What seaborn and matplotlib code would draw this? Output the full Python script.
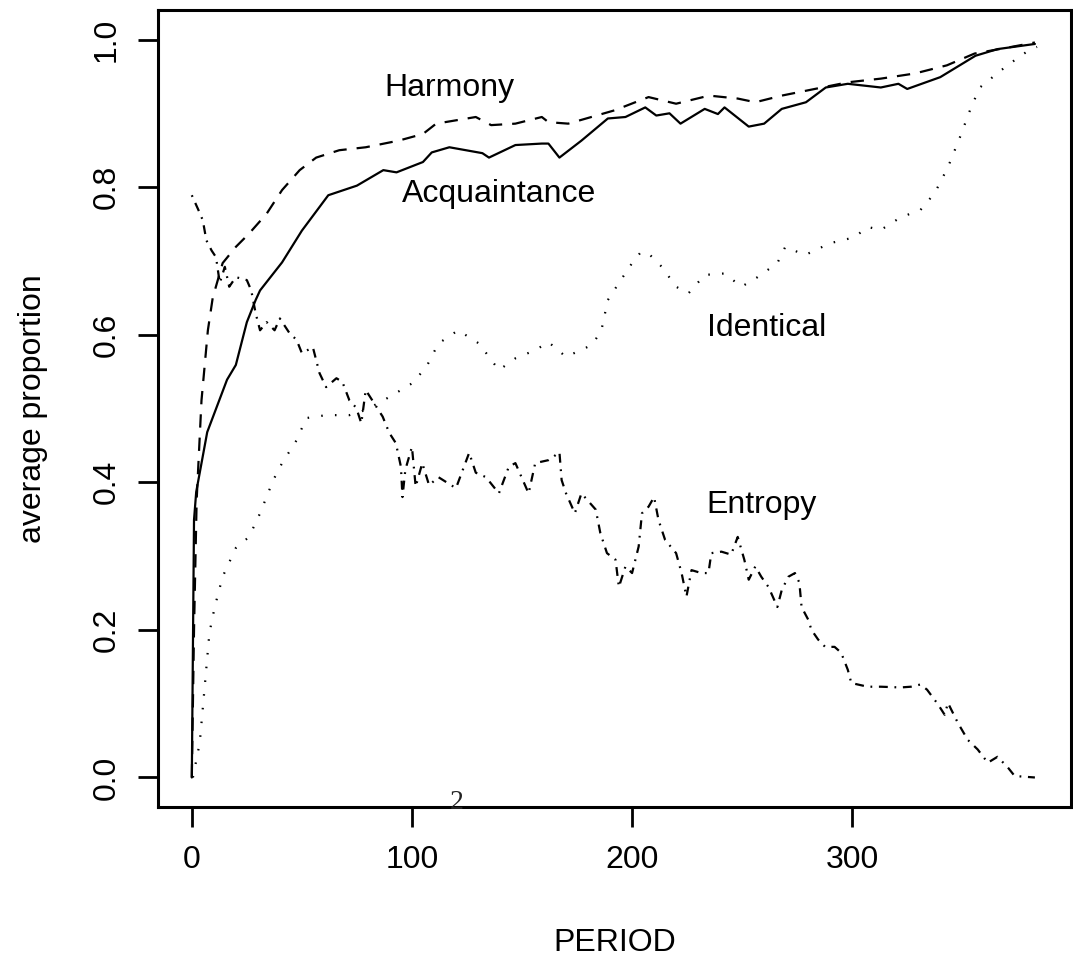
import matplotlib
matplotlib.use("Agg")
import matplotlib.pyplot as plt
import seaborn as sns
import numpy as np

# ---------------- data ----------------
acq_x = [0, 1, 2, 7, 16, 20, 25, 29, 31, 41, 50, 62, 75, 87, 93, 105, 109, 117,
         132, 135, 147, 159, 162, 167, 177, 189, 197, 206, 211, 217, 222, 233,
         239, 242, 253, 260, 268, 279, 288, 298, 313, 321, 325, 340, 356, 366, 383]
acq_y = [0.0, 0.349, 0.387, 0.468, 0.539, 0.559, 0.617, 0.647, 0.66, 0.698, 0.741,
         0.789, 0.802, 0.823, 0.82, 0.834, 0.847, 0.854, 0.846, 0.84, 0.857, 0.859,
         0.859, 0.84, 0.863, 0.893, 0.895, 0.908, 0.897, 0.9, 0.886, 0.906, 0.899,
         0.908, 0.882, 0.886, 0.906, 0.915, 0.935, 0.94, 0.935, 0.94, 0.933, 0.949,
         0.978, 0.987, 0.994]

har_x = [0, 1, 2.2, 4.4, 7.3, 9.5, 14, 20, 26, 34, 41, 49, 56.5, 67, 79, 94, 105,
         111, 129, 136, 147, 159, 162, 171, 192, 207.5, 220, 235, 248, 256, 268,
         283, 298, 313, 328.5, 343, 355.6, 370.6, 383]
har_y = [0.0, 0.2, 0.376, 0.511, 0.606, 0.65, 0.697, 0.719, 0.737, 0.764, 0.796,
         0.823, 0.84, 0.85, 0.854, 0.863, 0.872, 0.886, 0.895, 0.884, 0.886, 0.895,
         0.888, 0.886, 0.904, 0.922, 0.913, 0.924, 0.92, 0.915, 0.924, 0.933, 0.942,
         0.947, 0.954, 0.965, 0.981, 0.989, 0.996]

ide_x = [0.5, 3.6, 6, 8, 10.4, 14, 20, 26, 31, 37, 41, 47.6, 52, 61, 71.6, 79, 90,
         100, 106.5, 112, 121, 130.5, 139.5, 147, 156, 162, 170, 181.7, 186, 189,
         194, 200, 204, 207.5, 213.5, 220, 225.6, 233, 242, 249.7, 257, 266, 269.6,
         278.6, 290, 301, 307, 313, 322, 331, 337.5, 343.5, 349, 354, 358, 367.5,
         373.8, 381, 384]
ide_y = [0.0, 0.047, 0.128, 0.196, 0.231, 0.272, 0.311, 0.326, 0.358, 0.403, 0.426,
         0.457, 0.487, 0.491, 0.491, 0.498, 0.516, 0.534, 0.556, 0.588, 0.606, 0.588,
         0.552, 0.568, 0.579, 0.59, 0.57, 0.586, 0.605, 0.647, 0.67, 0.697, 0.712,
         0.71, 0.692, 0.665, 0.656, 0.681, 0.683, 0.665, 0.678, 0.697, 0.719, 0.708,
         0.724, 0.732, 0.746, 0.742, 0.759, 0.769, 0.792, 0.827, 0.868, 0.908, 0.935,
         0.958, 0.972, 0.987, 0.99]

ent_x = [0, 3, 5, 6.6, 9, 11, 12.7, 15, 17, 20, 25, 27, 29, 31, 34, 37.6, 40, 44.4,
         47.6, 50, 55, 58, 61, 65.7, 68.4, 71.6, 74.7, 77, 79, 82, 86.7, 89.7, 92.7,
         95, 95.7, 97, 100, 101.7, 104.7, 107.8, 112, 120, 126, 129, 133.6, 139.5,
         144, 147, 153, 156, 162, 163.6, 167, 168, 170, 174, 177, 183.5, 185.6,
         188.6, 192.5, 194, 197, 200, 203, 204.5, 207.5, 210, 212, 215, 220, 222.5,
         224.7, 227, 231.5, 234.7, 236, 240.6, 245, 248, 251, 253, 256, 258.7, 262,
         266, 268, 271, 274, 276, 277, 280, 281.5, 284.5, 287.7, 292, 295, 298,
         299.6, 307, 313, 322, 326.7, 331, 334, 339, 342, 343.5, 348, 352.5, 357,
         361.6, 366, 370.6, 373.8, 383]
ent_y = [0.789, 0.769, 0.755, 0.728, 0.714, 0.705, 0.67, 0.692, 0.665, 0.678, 0.674,
         0.66, 0.629, 0.606, 0.617, 0.606, 0.622, 0.602, 0.593, 0.575, 0.583, 0.548,
         0.529, 0.541, 0.536, 0.511, 0.501, 0.48, 0.525, 0.511, 0.489, 0.467, 0.453,
         0.421, 0.38, 0.417, 0.448, 0.394, 0.426, 0.396, 0.407, 0.392, 0.44, 0.413,
         0.407, 0.385, 0.421, 0.426, 0.385, 0.426, 0.43, 0.433, 0.441, 0.403, 0.385,
         0.358, 0.385, 0.363, 0.331, 0.304, 0.295, 0.258, 0.286, 0.277, 0.313, 0.358,
         0.367, 0.38, 0.349, 0.322, 0.304, 0.277, 0.245, 0.281, 0.277, 0.277, 0.304,
         0.306, 0.302, 0.326, 0.295, 0.268, 0.286, 0.272, 0.258, 0.231, 0.254, 0.272,
         0.277, 0.264, 0.231, 0.214, 0.2, 0.187, 0.177, 0.177, 0.169, 0.146, 0.128,
         0.123, 0.123, 0.122, 0.123, 0.126, 0.119, 0.099, 0.085, 0.101, 0.074, 0.051,
         0.038, 0.02, 0.028, 0.014, 0.002, 0.0]

labels = ["Harmony", "Acquaintance", "Identical", "Entropy"]
label_pos = [(117, 0.934), (139.5, 0.79), (261, 0.609), (259, 0.369)]
x_ticks = [0, 100, 200, 300]
y_ticks = [0.0, 0.2, 0.4, 0.6, 0.8, 1.0]
y_ticklabels = ["0.0", "0.2", "0.4", "0.6", "0.8", "1.0"]

# ---------------- style ----------------
sns.set_theme(style="white")
plt.rcParams["font.family"] = ["Liberation Sans", "DejaVu Sans"]

W, H = 1073, 959
fig = plt.figure(figsize=(W / 100, H / 100), dpi=100)
ax = fig.add_axes([158 / W, (H - 807) / H, (1071 - 158) / W, (807 - 10) / H])

lw = 1.6
sns.lineplot(x=acq_x, y=acq_y, ax=ax, color="black", lw=lw, estimator=None,
             linestyle="-")
sns.lineplot(x=har_x, y=har_y, ax=ax, color="black", lw=lw, estimator=None,
             linestyle=(0, (6.0, 4.5)))
sns.lineplot(x=ide_x, y=ide_y, ax=ax, color="black", lw=lw, estimator=None,
             linestyle=(0, (0.7, 5.5)))
sns.lineplot(x=ent_x, y=ent_y, ax=ax, color="black", lw=lw, estimator=None,
             linestyle=(0, (0.8, 3.0, 4.0, 3.0)))

fs = 23
for lab, (lx, ly) in zip(labels, label_pos):
    ax.text(lx, ly, lab, fontsize=fs, ha="center", va="center", color="black")

ax.text(120.5, -0.043, "2", fontsize=20, ha="center", va="baseline",
        family=["Liberation Serif", "DejaVu Serif"], color="#222222", clip_on=False)

ax.set_xlim(-15.36, 399.4)
ax.set_ylim(-0.04, 1.04)
ax.set_xticks(x_ticks)
ax.set_xticklabels([str(t) for t in x_ticks])
ax.set_yticks(y_ticks)
ax.set_yticklabels(y_ticklabels, rotation=90, va="center")

ax.tick_params(axis="both", direction="out", length=14.4, width=2.0,
               color="black", labelsize=fs, labelcolor="black", bottom=True, left=True)
ax.tick_params(axis="x", pad=13)
ax.tick_params(axis="y", pad=12)

for sp in ax.spines.values():
    sp.set_visible(True)
    sp.set_color("black")
    sp.set_linewidth(2.2)

ax.set_xlabel("PERIOD", fontsize=fs, color="black")
ax.set_ylabel("average proportion", fontsize=fs, color="black")
ax.xaxis.set_label_coords(0.5, -0.152)
ax.yaxis.set_label_coords(-0.121, 0.5)
ax.grid(False)

fig.savefig("out.png", dpi=100, facecolor="white")
